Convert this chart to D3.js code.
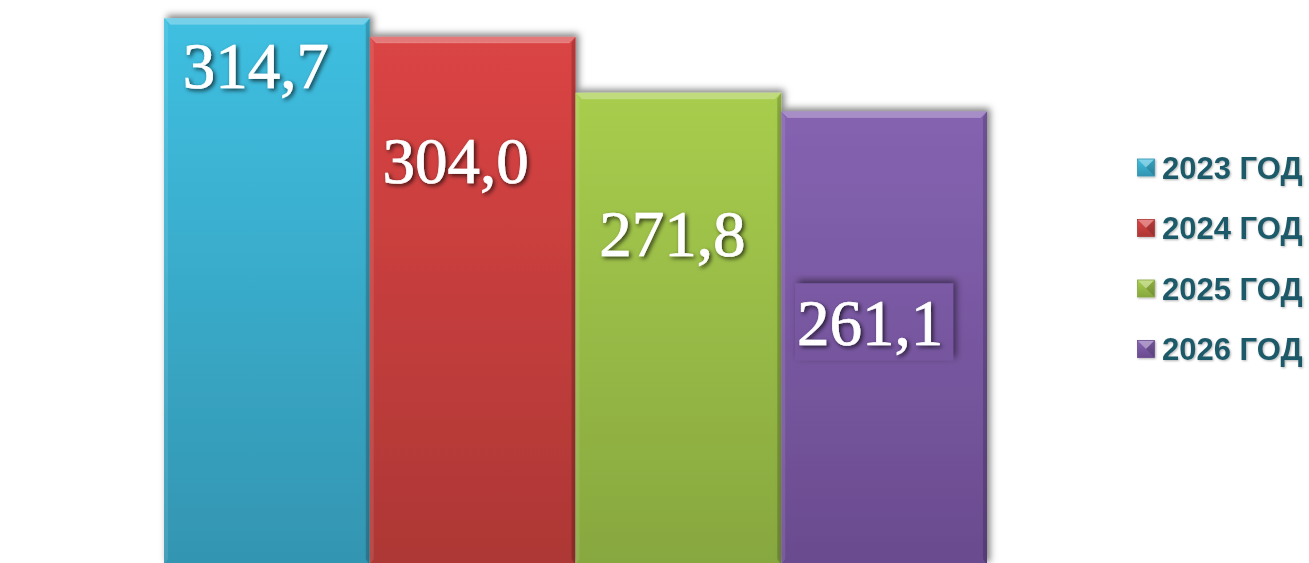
<!DOCTYPE html>
<html>
<head>
<meta charset="utf-8">
<script src="https://cdn.jsdelivr.net/npm/d3@7"></script>
<style>
  html, body { margin: 0; padding: 0; background: #ffffff; }
  svg { display: block; }
</style>
</head>
<body>
<div id="chart"></div>
<script>
// ---- data ----
const categories = ["2023 ГОД", "2024 ГОД", "2025 ГОД", "2026 ГОД"];
const values = [314.7, 304.0, 271.8, 261.1];
const valueLabels = ["314,7", "304,0", "271,8", "261,1"];

// ---- styling / layout (kept apart from data) ----
const topColors = ["#3fbfe1", "#db4444", "#a8cd4d", "#8563b1"];
const bottomColors = ["#3395b1", "#ad3735", "#87a73f", "#6a4b8f"];
const labelDx = [-11, -17, -6, -14];
const labelDy = [70, 146, 163, 234];
const labelBox = [false, false, false, true];

const W = 1309, H = 563;
const svg = d3.select("#chart").append("svg").attr("width", W).attr("height", H);
const defs = svg.append("defs");

const x = d3.scaleBand().domain(categories).range([164, 987]).paddingInner(0).paddingOuter(0);
const y = d3.scaleLinear().domain([0, 314.7]).range([565, 18.3]);

// filters
const sh = defs.append("filter").attr("id", "barShadow")
  .attr("x", "-10%").attr("y", "-10%").attr("width", "130%").attr("height", "130%");
sh.append("feDropShadow").attr("dx", 3).attr("dy", -3).attr("stdDeviation", 3.6)
  .attr("flood-color", "#000").attr("flood-opacity", 0.5);

const tsh = defs.append("filter").attr("id", "textShadow")
  .attr("x", "-10%").attr("y", "-20%").attr("width", "130%").attr("height", "150%");
tsh.append("feDropShadow").attr("dx", 2).attr("dy", 2).attr("stdDeviation", 2)
  .attr("flood-color", "#000").attr("flood-opacity", 0.7);

const lsh = defs.append("filter").attr("id", "legShadow")
  .attr("x", "-10%").attr("y", "-20%").attr("width", "130%").attr("height", "150%");
lsh.append("feDropShadow").attr("dx", 1).attr("dy", 1).attr("stdDeviation", 0.8)
  .attr("flood-color", "#000").attr("flood-opacity", 0.3);

// gradients (user space so label boxes share the bar's shading)
categories.forEach((c, i) => {
  const g = defs.append("linearGradient").attr("id", "grad" + i)
    .attr("gradientUnits", "userSpaceOnUse")
    .attr("x1", 0).attr("x2", 0).attr("y1", y(values[i])).attr("y2", y(0));
  g.append("stop").attr("offset", "0%").attr("stop-color", topColors[i]);
  g.append("stop").attr("offset", "100%").attr("stop-color", bottomColors[i]);
  const lg = defs.append("linearGradient").attr("id", "lgrad" + i)
    .attr("x1", 0).attr("x2", 0).attr("y1", 0).attr("y2", 1);
  lg.append("stop").attr("offset", "0%").attr("stop-color", topColors[i]);
  lg.append("stop").attr("offset", "100%").attr("stop-color", bottomColors[i]);
});

const bars = svg.append("g");
const bw = x.bandwidth();
const bev = 6;

categories.forEach((c, i) => {
  const x0 = x(c), x1 = x0 + bw, y0 = y(values[i]), y1 = y(0);
  const g = bars.append("g");
  g.append("rect").attr("x", x0).attr("y", y0).attr("width", bw).attr("height", y1 - y0)
    .attr("fill", `url(#grad${i})`).attr("filter", "url(#barShadow)");
  // bevel: top
  g.append("path")
    .attr("d", `M${x0},${y0}L${x1},${y0}L${x1 - bev},${y0 + bev}L${x0 + bev},${y0 + bev}Z`)
    .attr("fill", "#fff").attr("opacity", 0.28);
  // bevel: left
  g.append("path")
    .attr("d", `M${x0},${y0}L${x0 + 4},${y0 + bev}L${x0 + 4},${y1 - bev}L${x0},${y1}Z`)
    .attr("fill", "#fff").attr("opacity", 0.1);
  // bevel: right
  g.append("path")
    .attr("d", `M${x1},${y0}L${x1 - 4},${y0 + bev}L${x1 - 4},${y1 - bev}L${x1},${y1}Z`)
    .attr("fill", "#000").attr("opacity", 0.18);
  g.append("line").attr("x1", x0 + bev).attr("x2", x1 - bev)
    .attr("y1", y0 + bev).attr("y2", y0 + bev)
    .attr("stroke", "#fff").attr("stroke-opacity", 0.15).attr("stroke-width", 1);
});

// value labels
const labels = svg.append("g");
categories.forEach((c, i) => {
  const cx = x(c) + bw / 2 + labelDx[i];
  const by = y(values[i]) + labelDy[i];
  if (labelBox[i]) {
    labels.append("rect").attr("x", cx - 75).attr("y", by - 62)
      .attr("width", 158).attr("height", 77)
      .attr("fill", `url(#grad${i})`).attr("filter", "url(#barShadow)");
  }
  labels.append("text")
    .attr("x", cx).attr("y", by)
    .attr("text-anchor", "middle")
    .attr("font-family", "'Liberation Serif', 'Times New Roman', serif")
    .attr("font-size", 65)
    .attr("fill", "#ffffff")
    .attr("stroke", "#ffffff")
    .attr("stroke-width", 0.7)
    .attr("filter", "url(#textShadow)")
    .text(valueLabels[i]);
});

// legend
const legend = svg.append("g");
const legY = d3.scalePoint().domain(categories).range([167.5, 349]);
categories.forEach((c, i) => {
  const cy = legY(c);
  const s = 17, mx = 1137.5, my = cy - s / 2;
  const mg = legend.append("g").attr("filter", "url(#legShadow)");
  mg.append("rect").attr("x", mx).attr("y", my).attr("width", s).attr("height", s)
    .attr("fill", `url(#lgrad${i})`);
  mg.append("path").attr("d", `M${mx},${my}L${mx + s},${my}L${mx + s / 2},${my + s / 2}Z`)
    .attr("fill", "#fff").attr("opacity", 0.35);
  mg.append("path").attr("d", `M${mx + s},${my}L${mx + s},${my + s}L${mx + s / 2},${my + s / 2}Z`)
    .attr("fill", "#000").attr("opacity", 0.15);
  mg.append("rect").attr("x", mx).attr("y", my).attr("width", s).attr("height", s)
    .attr("fill", "none").attr("stroke", bottomColors[i]).attr("stroke-width", 0.8);
  legend.append("text")
    .attr("x", 1162).attr("y", cy + 11)
    .attr("font-family", "'Liberation Sans', Arial, sans-serif")
    .attr("font-weight", "bold")
    .attr("font-size", 31)
    .attr("fill", "#1f5a6a")
    .attr("filter", "url(#legShadow)")
    .text(c);
});
</script>
</body>
</html>
